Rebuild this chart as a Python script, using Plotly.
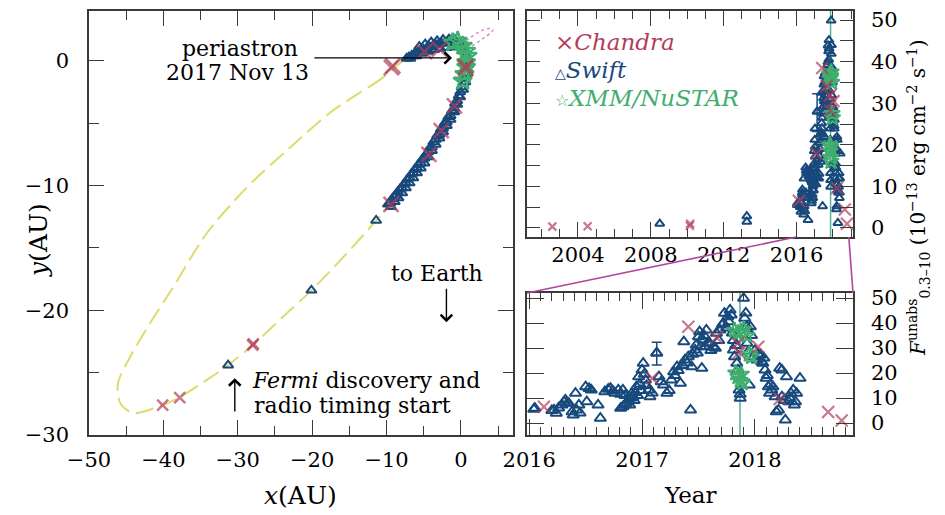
import plotly.graph_objects as go

# ---------------------------------------------------------------- data
# Orbit of the pulsar around the Be star (AU), traced around the ellipse
orbit_x = [-7.85, -10.54, -17.25, -23.0, -28.8, -34.2, -38.7, -41.8, -44.5, -46.1,
           -45.8, -44.1, -40.1, -37.8, -34.2, -31.3, -28.0, -24.0, -20.1, -15.6,
           -11.4, -9.4, -7.8, -6.5, -5.1, -4.2, -2.5, -0.9, 0.24, 0.8, 0.5, -0.4,
           -1.5, -2.9, -4.6, -6.5, -7.85]
orbit_y = [0.0, -1.36, -4.0, -6.96, -10.16, -13.84, -18.16, -21.04, -23.76, -25.84,
           -27.44, -28.24, -27.6, -26.96, -25.6, -24.4, -22.8, -20.56, -18.4, -15.6,
           -12.8, -11.4, -10.1, -9.1, -8.0, -7.1, -5.4, -3.5, -1.6, 0.0, 0.9, 1.35,
           1.45, 1.35, 1.05, 0.6, 0.0]

# alternative orbit solution near periastron (AU)
alt_x = [0.3, 1.5, 3.0, 4.0, 4.3, 3.8, 2.5, 1.0, -0.3, 0.3]
alt_y = [0.8, 1.2, 1.8, 2.25, 2.5, 2.6, 2.35, 1.75, 1.25, 0.8]

# X-ray light curve: epoch (yr) and unabsorbed 0.3-10 keV flux (1e-13 cgs)
chandra_t = [2002.59, 2004.53, 2010.14, 2010.16, 2016.13, 2017.09, 2017.41, 2017.66,
             2017.85, 2017.86, 2018.03, 2018.22, 2018.65, 2018.77]
chandra_f = [0.3, 0.4, 0.5, 1.0, 6.5, 17.9, 38.5, 34.2, 31.9, 28.2, 30.5, 9.6, 4.4, 1.0]
chandra_ox = [-40.1, -37.8, -28.0, -27.9, -9.4, -4.3, -2.65, -0.87, 0.6, 0.65, -2.9, -4.9, -9.15, -9.35]
chandra_oy = [-27.6, -27.0, -22.8, -22.7, -11.5, -7.5, -5.6, -3.6, -0.6, -0.45, 0.94, 0.75, -0.4, -0.55]

swift_t = [2008.49, 2013.27, 2013.27,
           2016.04, 2016.05, 2016.20, 2016.22, 2016.24, 2016.26, 2016.29, 2016.31, 2016.32,
           2016.34, 2016.35, 2016.38, 2016.39, 2016.41, 2016.42, 2016.44, 2016.45, 2016.50,
           2016.51, 2016.53, 2016.55, 2016.61, 2016.63, 2016.67, 2016.70, 2016.72, 2016.74,
           2016.76, 2016.79, 2016.81, 2016.83, 2016.85, 2016.81, 2016.83, 2016.85, 2016.86,
           2016.88, 2016.89, 2016.90, 2016.91, 2016.92, 2016.93, 2016.94, 2016.95, 2016.96,
           2016.97, 2016.98, 2016.99, 2017.00, 2017.01, 2017.02, 2017.03, 2017.04, 2017.06,
           2017.07, 2017.09, 2017.13, 2017.15, 2017.17, 2017.19, 2017.22, 2017.24, 2017.26,
           2017.28, 2017.29, 2017.31, 2017.32, 2017.34, 2017.36, 2017.37, 2017.38, 2017.40,
           2017.41, 2017.43, 2017.44, 2017.45, 2017.47, 2017.48, 2017.49, 2017.50, 2017.51,
           2017.52, 2017.53, 2017.54, 2017.55, 2017.56, 2017.57, 2017.58, 2017.60, 2017.61,
           2017.63, 2017.65, 2017.66, 2017.68, 2017.69, 2017.71, 2017.72, 2017.73, 2017.75,
           2017.76, 2017.77, 2017.78, 2017.79, 2017.80, 2017.81, 2017.81, 2017.82, 2017.83,
           2017.84, 2017.85, 2017.86, 2017.87, 2017.87, 2017.90, 2017.91, 2017.92, 2017.93,
           2017.93, 2017.94, 2017.95, 2017.96, 2017.97, 2017.99, 2018.00, 2018.02, 2018.03,
           2018.05, 2018.06, 2018.07, 2018.08, 2018.09, 2018.10, 2018.11, 2018.12, 2018.13,
           2018.14, 2018.15, 2018.16, 2018.18, 2018.19, 2018.21, 2018.22, 2018.24, 2018.24,
           2018.26, 2018.27, 2018.28, 2018.30, 2018.31, 2018.32, 2018.34, 2018.35, 2018.36,
           2018.37, 2018.40]
swift_f = [1.0, 1.5, 2.8,
           5.5, 5.9, 5.0, 5.2, 3.9, 6.0, 7.2, 8.4, 9.2,
           8.0, 7.9, 4.5, 3.2, 11.9, 5.2, 7.2, 4.0, 14.5,
           8.5, 13.8, 13.2, 7.2, 1.9, 12.5, 13.5, 13.9, 12.8,
           11.9, 13.2, 11.5, 13.2, 11.0, 5.9, 6.5, 7.2, 8.0,
           9.2, 7.2, 10.0, 11.9, 10.5, 9.0, 12.2, 14.5, 11.0,
           18.5, 15.5, 13.0, 21.2, 23.9, 19.5, 17.2, 15.0, 13.2,
           10.5, 12.0, 28.0, 18.5, 16.5, 15.2, 11.9, 13.0, 17.2,
           20.5, 19.0, 22.5, 21.0, 15.9, 23.0, 32.5, 25.2, 24.0,
           26.5, 5.2, 22.5, 27.5, 29.2, 31.2, 28.0, 34.5, 36.5,
           30.5, 21.9, 33.2, 35.0, 30.5, 37.2, 32.0, 31.9, 29.0,
           30.5, 29.9, 35.9, 33.0, 37.2, 39.2, 39.9, 43.9, 38.0,
           42.5, 40.5, 45.2, 43.2, 36.0, 33.0, 29.2, 26.5, 31.0,
           23.9, 21.2, 13.2, 9.9, 11.5, 49.9, 41.9, 44.0, 38.5,
           31.9, 28.5, 15.2, 38.5, 35.0, 26.5, 29.0, 25.2, 27.5,
           27.2, 24.5, 23.9, 26.0, 21.2, 17.9, 19.0, 14.5, 11.9,
           15.5, 13.2, 14.5, 10.5, 4.5, 5.2, 21.9, 21.2, 10.5,
           9.0, 1.2, 18.5, 8.5, 9.9, 11.9, 13.2, 7.2, 8.5,
           11.9, 17.9]
# one observation with a visibly large uncertainty
swift_err_t = [2017.13]
swift_err_f = [28.0]
swift_err_hi = [4.3]
swift_err_lo = [4.8]

# Swift pointings along the orbit (AU)
swift_ox = [-31.3, -20.1, -11.4,
            -9.8, -9.5, -9.3, -9.0, -8.7, -8.5, -8.2, -7.9, -7.7, -7.4, -7.2, -6.9, -6.7,
            -6.4, -6.2, -5.9, -5.7, -5.4, -5.2, -4.9, -4.7, -4.4, -4.2, -3.9, -3.7, -3.4,
            -3.2, -2.9, -2.7, -2.4, -2.2, -1.9, -1.7, -1.4, -1.2, -0.9, -0.8, -0.5, -0.3,
            -0.1, 0.1, 0.3, 0.4, 0.6, 0.7, 0.8, 0.8, 0.7, 0.5, 0.2, -0.2, -0.6, -1.0, -1.4,
            -1.8, -2.2, -2.6, -3.0, -3.4, -3.8, -4.2, -4.6, -5.0, -5.4, -5.8, -6.2, -6.6,
            -7.0, -7.3,
            -9.4, -8.9, -8.4, -7.9, -7.4, -6.9, -6.4, -5.9, -5.4, -4.9, -4.4, -3.9, -3.4,
            -2.9, -2.4, -1.9, -1.4, -0.9, -0.5, -0.1, 0.3, 0.6, 0.9, 1.0,
            -1.2, -2.0, -2.8, -3.6, -4.4, -5.2, -6.0, -6.8,
            -0.8, -1.6, -2.4, -3.2, -4.0, -4.8, -5.6]
swift_oy = [-24.4, -18.4, -12.8,
            -11.5, -11.4, -11.1, -10.9, -10.8, -10.5, -10.3, -10.2, -9.9, -9.8, -9.5, -9.4, -9.1,
            -9.0, -8.7, -8.6, -8.3, -8.2, -7.9, -7.8, -7.5, -7.3, -7.0, -6.9, -6.5, -6.3,
            -6.0, -5.9, -5.5, -5.4, -5.0, -4.9, -4.5, -4.4, -4.0, -3.8, -3.4, -3.2, -2.8,
            -2.5, -2.1, -1.8, -1.4, -1.1, -0.7, -0.3, 0.1, 0.5, 0.8, 1.1, 1.3, 1.4, 1.5, 1.5,
            1.5, 1.45, 1.4, 1.35, 1.3, 1.2, 1.1, 1.0, 0.9, 0.85, 0.7, 0.6, 0.45,
            0.3, 0.2,
            -11.7, -11.3, -11.0, -10.6, -10.2, -9.8, -9.4, -9.0, -8.6, -8.2, -7.7, -7.2, -6.7,
            -6.2, -5.7, -5.2, -4.7, -4.1, -3.5, -2.9, -2.3, -1.7, -1.0, -0.3,
            1.1, 1.05, 1.0, 0.9, 0.75, 0.6, 0.4, 0.2,
            1.7, 1.75, 1.7, 1.6, 1.5, 1.35, 1.15]

xmm_t = [2017.82, 2017.85, 2017.88, 2017.90, 2017.93, 2017.95, 2017.97,
         2017.83, 2017.85, 2017.87, 2017.88, 2017.89]
xmm_f = [37.0, 36.0, 36.5, 37.5, 35.0, 27.5, 26.5, 20.0, 18.5, 17.0, 19.5, 16.0]
xmm_ox = [-1.1, -0.43, 0.24, 0.7, 0.9, 0.7, 0.7, 0.47, 0.24]
xmm_oy = [1.46, 1.6, 1.2, 0.8, 0.4, -0.13, -0.5, -1.07, -1.6]

periastron_t = 2017.868

# ---------------------------------------------------------------- style
W, H = 945, 515
FONT = "DejaVu Serif"
RED = "#b43d58"
BLUE = "#17497d"
GREEN = "#3fae6e"
YELLOW = "#dedb6c"
PINK = "#d98cc8"
MAGENTA = "#b0469e"
TEAL = "#5aae9e"
FRAME = "#3a3a3a"

# panel frames in pixels (left, top, right, bottom)
LEFT = (89, 11, 513, 435)
TOPR = (527, 11, 853, 237)
BOTR = (527, 293, 853, 435)


def xdom(b):
    return [b[0] / W, b[2] / W]


def ydom(b):
    return [1 - b[3] / H, 1 - b[1] / H]


def px(x):
    return x / W


def py(y):
    return 1 - y / H


fig = go.Figure()

# ---- left panel: orbit
fig.add_trace(go.Scatter(x=orbit_x, y=orbit_y, mode="lines", line_shape="spline",
                         line=dict(color=YELLOW, width=2, dash="18px,7px", smoothing=0.8),
                         xaxis="x", yaxis="y", hoverinfo="skip"))
fig.add_trace(go.Scatter(x=alt_x, y=alt_y, mode="lines", line_shape="spline",
                         line=dict(color=PINK, width=1.5, dash="dot"),
                         xaxis="x", yaxis="y", hoverinfo="skip"))
fig.add_trace(go.Scatter(x=swift_ox, y=swift_oy, mode="markers",
                         marker=dict(symbol="triangle-up-open", size=9, color=BLUE,
                                     line=dict(width=2, color=BLUE)),
                         xaxis="x", yaxis="y"))
fig.add_trace(go.Scatter(x=xmm_ox, y=xmm_oy, mode="markers",
                         marker=dict(symbol="star-open", size=14, color=GREEN,
                                     line=dict(width=2.4, color=GREEN)),
                         xaxis="x", yaxis="y"))
fig.add_trace(go.Scatter(x=chandra_ox, y=chandra_oy, mode="markers",
                         marker=dict(symbol="x-thin-open",
                                     size=[11 if t < 2016 else 15 for t in chandra_t],
                                     color=RED, line=dict(width=2.5, color=RED)),
                         xaxis="x", yaxis="y"))

# ---- right panels: light curve (full span and zoom)
for xa, ya, tri, csz in (("x2", "y2", 8, 12), ("x3", "y3", 10, 12)):
    fig.add_trace(go.Scatter(x=swift_t, y=swift_f, mode="markers",
                             marker=dict(symbol="triangle-up-open", size=tri, color=BLUE,
                                         line=dict(width=2, color=BLUE)),
                             xaxis=xa, yaxis=ya))
    fig.add_trace(go.Scatter(x=swift_err_t, y=swift_err_f, mode="markers",
                             marker=dict(symbol="triangle-up-open", size=tri, color=BLUE,
                                         line=dict(width=2, color=BLUE)),
                             error_y=dict(type="data", array=swift_err_hi,
                                          arrayminus=swift_err_lo, color=BLUE,
                                          thickness=1.5, width=5),
                             xaxis=xa, yaxis=ya))
    fig.add_trace(go.Scatter(x=xmm_t, y=xmm_f, mode="markers",
                             marker=dict(symbol="star-open", size=12, color=GREEN,
                                         line=dict(width=2, color=GREEN)),
                             xaxis=xa, yaxis=ya))
    fig.add_trace(go.Scatter(x=chandra_t, y=chandra_f, mode="markers",
                             marker=dict(symbol="x-thin-open",
                                         size=[8 if t < 2016 else csz for t in chandra_t],
                                         color=RED, line=dict(width=2.2, color=RED)),
                             xaxis=xa, yaxis=ya))

# ---------------------------------------------------------------- axes
tickfont = dict(family=FONT, size=21, color="black")
base = dict(showgrid=False, zeroline=False, showline=True, linecolor=FRAME,
            linewidth=1.5, mirror="allticks", ticks="inside", tickcolor=FRAME,
            tickwidth=1.3, tickfont=tickfont, automargin=False)

top_range = [2001.2, 2019.1]
bot_range = [2015.98, 2018.87]

fig.update_layout(
    width=W, height=H, margin=dict(l=0, r=0, t=0, b=0, autoexpand=False),
    paper_bgcolor="white", plot_bgcolor="white", showlegend=False,
    xaxis=dict(base, domain=xdom(LEFT), anchor="y", range=[-50, 7], dtick=10, tick0=0,
               ticklen=15, minor=dict(dtick=5, tick0=0, ticklen=9, ticks="inside",
                                      tickcolor=FRAME),
               ticklabelstandoff=5),
    yaxis=dict(base, domain=ydom(LEFT), anchor="x", range=[-30, 4], dtick=10, tick0=0,
               ticklen=15, minor=dict(dtick=5, tick0=0, ticklen=10, ticks="inside",
                                      tickcolor=FRAME),
               ticklabelstandoff=14),
    xaxis2=dict(base, domain=xdom(TOPR), anchor="y2", range=top_range, dtick=4, tick0=2004,
                ticklen=15, minor=dict(dtick=1, ticklen=8, ticks="inside", tickcolor=FRAME),
                ticklabelstandoff=-2),
    yaxis2=dict(base, domain=ydom(TOPR), anchor="x2", range=[-2.2, 52.2], side="right",
                dtick=10, tick0=0, ticklen=13,
                minor=dict(dtick=5, tick0=0, ticklen=13, ticks="inside", tickcolor=FRAME),
                ticklabelstandoff=12),
    xaxis3=dict(base, domain=xdom(BOTR), anchor="y3", range=bot_range, dtick=1, tick0=2016,
                ticklen=16, minor=dict(dtick=0.1, tick0=2016, ticklen=8, ticks="inside",
                                       tickcolor=FRAME),
                ticklabelstandoff=5),
    yaxis3=dict(base, domain=ydom(BOTR), anchor="x3", range=[-4.8, 52], side="right",
                dtick=10, tick0=0, ticklen=17, ticklabelstandoff=12),
)

# ---------------------------------------------------------------- shapes
shapes = []
for xr, yr in (("x2", "y2 domain"), ("x3", "y3 domain")):
    shapes.append(dict(type="line", xref=xr, yref=yr, x0=periastron_t, x1=periastron_t,
                       y0=0, y1=1, line=dict(color=TEAL, width=1.5), layer="below"))


def top_px(t):
    d = xdom(TOPR)
    return d[0] + (t - top_range[0]) / (top_range[1] - top_range[0]) * (d[1] - d[0])


# zoom guides joining the two light-curve panels
for t, xb in ((bot_range[0], xdom(BOTR)[0]), (bot_range[1], xdom(BOTR)[1])):
    shapes.append(dict(type="line", xref="paper", yref="paper",
                       x0=top_px(t), y0=ydom(TOPR)[0], x1=xb, y1=ydom(BOTR)[1],
                       line=dict(color=MAGENTA, width=1.6)))
fig.update_layout(shapes=shapes)

# ---------------------------------------------------------------- annotations
tf = dict(family=FONT, size=22, color="black")
ann = []
# arrows on the orbit panel
for tip, tail in (((-1.2, 0.24), (-19.9, 0.24)),
                  ((-1.95, -20.96), (-1.95, -18.16)),
                  ((-30.4, -25.44), (-30.4, -28.24))):
    ann.append(dict(xref="x", yref="y", axref="x", ayref="y", x=tip[0], y=tip[1],
                    ax=tail[0], ay=tail[1], text="", showarrow=True, arrowhead=4,
                    arrowsize=1.6, arrowwidth=1.4, arrowcolor="black"))
ann += [
    dict(xref="paper", yref="paper", x=px(240), y=py(48), text="periastron",
         showarrow=False, font=tf, xanchor="center", yanchor="middle"),
    dict(xref="paper", yref="paper", x=px(237), y=py(73), text="2017 Nov 13",
         showarrow=False, font=tf, xanchor="center", yanchor="middle"),
    dict(xref="paper", yref="paper", x=px(437), y=py(273), text="to Earth",
         showarrow=False, font=tf, xanchor="center", yanchor="middle"),
    dict(xref="paper", yref="paper", x=px(250), y=py(380),
         text="<i>Fermi</i> discovery and", showarrow=False, font=tf,
         xanchor="left", yanchor="middle"),
    dict(xref="paper", yref="paper", x=px(252), y=py(405),
         text="radio timing start", showarrow=False, font=tf,
         xanchor="left", yanchor="middle"),
    # axis titles
    dict(xref="paper", yref="paper", x=px(300), y=py(495), text="<i>x</i>(AU)",
         showarrow=False, font=dict(family=FONT, size=25, color="black"),
         xanchor="center", yanchor="middle"),
    dict(xref="paper", yref="paper", x=px(38), y=py(240), text="<i>y</i>(AU)",
         showarrow=False, font=dict(family=FONT, size=25, color="black"),
         textangle=-90, xanchor="center", yanchor="middle"),
    dict(xref="paper", yref="paper", x=px(690), y=py(495), text="Year",
         showarrow=False, font=dict(family=FONT, size=23, color="black"),
         xanchor="center", yanchor="middle"),
    dict(xref="paper", yref="paper", x=px(918), y=py(198),
         text="<i>F</i><sup>unabs</sup><sub>0.3–10</sub> (10<sup>−13</sup> erg cm<sup>−2</sup> s<sup>−1</sup>)",
         showarrow=False, font=dict(family=FONT, size=20, color="black"),
         textangle=-90, xanchor="center", yanchor="middle"),
    # legend
    dict(xref="paper", yref="paper", x=px(553), y=py(42),
         text="×<i>Chandra</i>", showarrow=False,
         font=dict(family=FONT, size=23, color=RED), xanchor="left", yanchor="middle"),
    dict(xref="paper", yref="paper", x=px(553), y=py(70),
         text="<span style='font-size:14px'>△</span><i>Swift</i>", showarrow=False,
         font=dict(family=FONT, size=23, color=BLUE), xanchor="left", yanchor="middle"),
    dict(xref="paper", yref="paper", x=px(553), y=py(98),
         text="<span style='font-size:16px'>☆</span><i>XMM/NuSTAR</i>", showarrow=False,
         font=dict(family=FONT, size=23, color=GREEN), xanchor="left", yanchor="middle"),
]
fig.update_layout(annotations=ann)

fig.write_html("out.html")
